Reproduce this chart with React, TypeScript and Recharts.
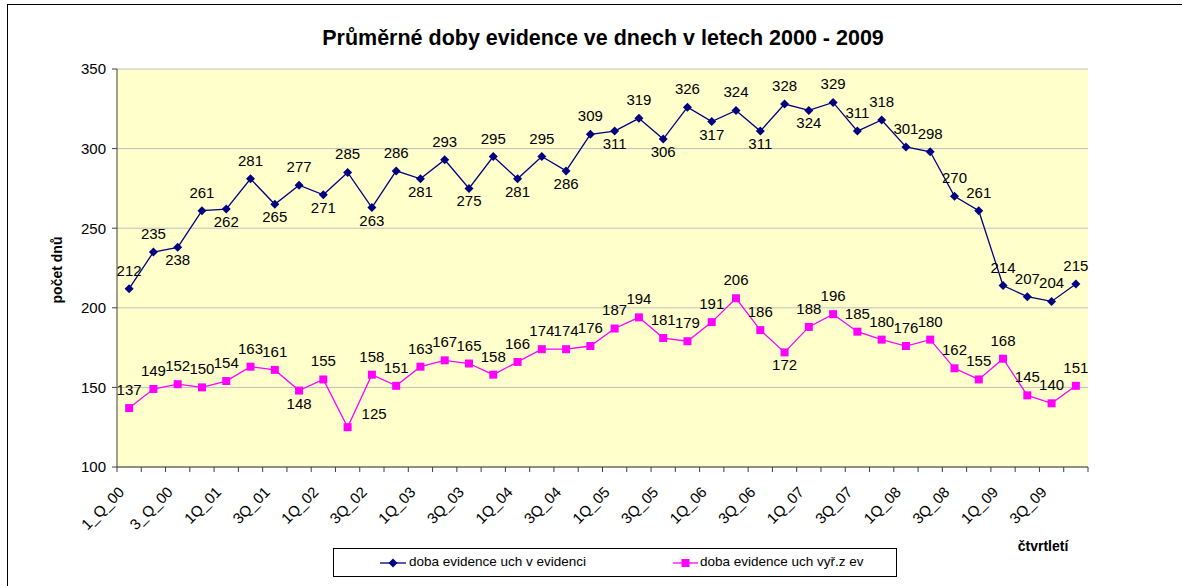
import { CartesianGrid, Legend, LabelList, Line, LineChart, XAxis, YAxis } from 'recharts';

const quarters = [
  '1_Q_00', '2_Q_00', '3_Q_00', '4_Q_00',
  '1Q_01', '2Q_01', '3Q_01', '4Q_01',
  '1Q_02', '2Q_02', '3Q_02', '4Q_02',
  '1Q_03', '2Q_03', '3Q_03', '4Q_03',
  '1Q_04', '2Q_04', '3Q_04', '4Q_04',
  '1Q_05', '2Q_05', '3Q_05', '4Q_05',
  '1Q_06', '2Q_06', '3Q_06', '4Q_06',
  '1Q_07', '2Q_07', '3Q_07', '4Q_07',
  '1Q_08', '2Q_08', '3Q_08', '4Q_08',
  '1Q_09', '2Q_09', '3Q_09', '4Q_09',
];

// doba evidence uch v evidenci
const inRegister = [
  212, 235, 238, 261, 262, 281, 265, 277, 271, 285,
  263, 286, 281, 293, 275, 295, 281, 295, 286, 309,
  311, 319, 306, 326, 317, 324, 311, 328, 324, 329,
  311, 318, 301, 298, 270, 261, 214, 207, 204, 215,
];

// doba evidence uch vyř.z ev
const removed = [
  137, 149, 152, 150, 154, 163, 161, 148, 155, 125,
  158, 151, 163, 167, 165, 158, 166, 174, 174, 176,
  187, 194, 181, 179, 191, 206, 186, 172, 188, 196,
  185, 180, 176, 180, 162, 155, 168, 145, 140, 151,
];

const yTicks = [100, 150, 200, 250, 300, 350];

const data = quarters.map((q, i) => ({ q, ev: inRegister[i], vyr: removed[i] }));

// label placement (Excel put some labels under the point)
const blueBelow = new Set([2, 4, 6, 8, 10, 12, 14, 16, 18, 20, 22, 24, 26, 28]);
const pinkBelow = new Set([7, 27]);
const pinkRight = new Set([9]);

const W = 1182;
const H = 586;
const M = { top: 69, right: 94, left: 57, bottom: 19 };
const Y_W = 60;
const X_H = 100;
const plotW = W - M.left - Y_W - M.right;
const band = plotW / quarters.length;
const FONT = '"Liberation Sans", Arial, sans-serif';

const Diamond = (p: any) => {
  const { cx, cy } = p;
  if (cx == null || cy == null) return null;
  const r = 4.5;
  return <path d={`M${cx},${cy - r}L${cx + r},${cy}L${cx},${cy + r}L${cx - r},${cy}Z`} fill="#000080" />;
};

const Square = (p: any) => {
  const { cx, cy } = p;
  if (cx == null || cy == null) return null;
  return <rect x={cx - 4} y={cy - 4} width={8} height={8} fill="#FF00FF" />;
};

const makeLabel = (below: Set<number>, right: Set<number>) => (p: any) => {
  const { x, y, value, index } = p;
  let tx = x;
  let ty = y - 13;
  let anchor: 'middle' | 'start' = 'middle';
  if (below.has(index)) {
    ty = y + 18;
  } else if (right.has(index)) {
    tx = x + 14;
    ty = y - 8;
    anchor = 'start';
  }
  return (
    <text x={tx} y={ty} textAnchor={anchor} fontSize={15} fontFamily={FONT} fill="#000">
      {value}
    </text>
  );
};

const XTick = (p: any) => {
  const { x, y, payload, index } = p;
  const lx = x - band / 2;
  const ax = x - 4;
  const ay = y + 26;
  return (
    <g>
      <line x1={lx} y1={y} x2={lx} y2={y + 5} stroke="#404040" />
      {index === quarters.length - 1 && (
        <line x1={x + band / 2} y1={y} x2={x + band / 2} y2={y + 5} stroke="#404040" />
      )}
      {index % 2 === 0 && (
        <text
          x={ax}
          y={ay}
          textAnchor="end"
          fontSize={15}
          fontFamily={FONT}
          fill="#000"
          transform={`rotate(-45, ${ax}, ${ay})`}
        >
          {payload.value}
        </text>
      )}
    </g>
  );
};

const LegendBox = () => (
  <div
    style={{
      width: 562,
      height: 27,
      border: '1px solid #000',
      background: '#fff',
      position: 'relative',
      fontFamily: FONT,
      fontSize: 13.5,
    }}
  >
    <svg width={30} height={12} style={{ position: 'absolute', left: 46, top: 8 }}>
      <line x1={0} y1={6} x2={26} y2={6} stroke="#000080" strokeWidth={1.3} />
      <path d="M13,1.5L17.5,6L13,10.5L8.5,6Z" fill="#000080" />
    </svg>
    <span style={{ position: 'absolute', left: 75, top: 5 }}>doba evidence uch v evidenci</span>
    <svg width={30} height={12} style={{ position: 'absolute', left: 339, top: 8 }}>
      <line x1={0} y1={6} x2={25} y2={6} stroke="#FF00FF" strokeWidth={1.3} />
      <rect x={8.5} y={2} width={8} height={8} fill="#FF00FF" />
    </svg>
    <span style={{ position: 'absolute', left: 366, top: 5 }}>doba evidence uch vyř.z ev</span>
  </div>
);

export default function App() {
  return (
    <div style={{ position: 'absolute', left: 0, top: 0, width: W, height: H, background: '#fff', overflow: 'hidden' }}>
      <div
        style={{
          position: 'absolute',
          left: 7,
          top: 4,
          width: 1300,
          height: 700,
          borderLeft: '1.5px solid #000',
          borderTop: '1.5px solid #000',
        }}
      />
      <LineChart width={W} height={H} data={data} margin={M}>
        <text
          x={603}
          y={45}
          textAnchor="middle"
          fontSize={21.5}
          fontWeight="bold"
          fontFamily={FONT}
          fill="#000"
        >
          Průměrné doby evidence ve dnech v letech 2000 - 2009
        </text>
        <CartesianGrid vertical={false} stroke="#C0C0C0" fill="#FFFFCC" fillOpacity={1} />
        <XAxis
          dataKey="q"
          scale="band"
          interval={0}
          height={X_H}
          tickSize={0}
          tickMargin={0}
          tickLine={false}
          axisLine={{ stroke: '#404040' }}
          tick={<XTick />}
          label={(p: any) => {
            const vb = p.viewBox;
            return (
              <text
                x={vb.x + vb.width - 45}
                y={vb.y + 84}
                textAnchor="middle"
                fontSize={14}
                fontWeight="bold"
                fontFamily={FONT}
                fill="#000"
              >
                čtvrtletí
              </text>
            );
          }}
        />
        <YAxis
          domain={[100, 350]}
          ticks={yTicks}
          width={Y_W}
          tickSize={5}
          tickMargin={6}
          tickLine={{ stroke: '#404040' }}
          axisLine={{ stroke: '#404040' }}
          tick={{ fontSize: 15, fontFamily: FONT, fill: '#000' }}
          label={(p: any) => {
            const vb = p.viewBox;
            const cx = vb.x + 5;
            const cy = vb.y + 201;
            return (
              <text
                x={cx}
                y={cy}
                textAnchor="middle"
                fontSize={14}
                fontWeight="bold"
                fontFamily={FONT}
                fill="#000"
                transform={`rotate(-90, ${cx}, ${cy})`}
              >
                počet dnů
              </text>
            );
          }}
        />
        <YAxis yAxisId="edge" orientation="right" width={0} tick={false} tickLine={false} axisLine={{ stroke: '#C0C0C0' }} />
        <Line
          dataKey="ev"
          stroke="#000080"
          strokeWidth={1.3}
          dot={<Diamond />}
          activeDot={false}
          isAnimationActive={false}
        >
          <LabelList dataKey="ev" content={makeLabel(blueBelow, new Set())} />
        </Line>
        <Line
          dataKey="vyr"
          stroke="#FF00FF"
          strokeWidth={1.3}
          dot={<Square />}
          activeDot={false}
          isAnimationActive={false}
        >
          <LabelList dataKey="vyr" content={makeLabel(pinkBelow, pinkRight)} />
        </Line>
        <Legend
          layout="horizontal"
          verticalAlign="middle"
          align="center"
          wrapperStyle={{ left: 333, top: 548, width: 564, height: 29 }}
          content={() => <LegendBox />}
        />
      </LineChart>
    </div>
  );
}
